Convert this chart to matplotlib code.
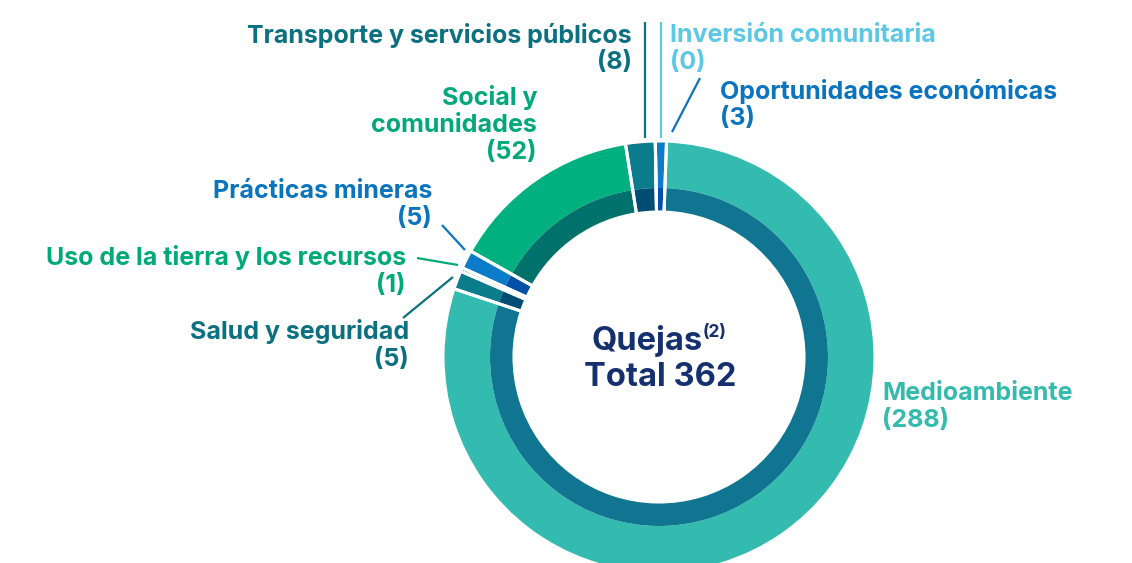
import matplotlib
matplotlib.use("Agg")
import matplotlib.pyplot as plt

# ---- data ----
categories = ["Medioambiente", "Salud y seguridad", "Uso de la tierra y los recursos",
              "Prácticas mineras", "Social y\ncomunidades", "Transporte y servicios públicos",
              "Inversión comunitaria", "Oportunidades económicas"]
values = [288, 5, 1, 5, 52, 8, 0, 3]
total_label = "Total 362"
center_title = "Quejas"
center_note = "(2)"

outer_colors = ["#33BBAF", "#0A7C8C", "#00B07F", "#0A7CC8", "#00B07F", "#0A7C8C", "#5BC8E6", "#0A7CC8"]
inner_colors = ["#0F7590", "#004D73", "#0E8A74", "#0050A8", "#00716B", "#004D73", "#5BC8E6", "#0052A6"]
text_colors = ["#33BBAE", "#0B7080", "#00AA78", "#0A74BF", "#00A87A", "#0B7080", "#5CC8E5", "#0A74BF"]

W, H = 1132, 563
fig = plt.figure(figsize=(W / 100, H / 100), dpi=100)
ax = fig.add_axes([0, 0, 1, 1])

cx, cy = 659, H - 357
R_out, R_mid, R_in = 216, 169, 145
start = 88

ax.pie(values, radius=R_out, center=(cx, cy), startangle=start, counterclock=False,
       colors=outer_colors, wedgeprops=dict(width=R_out - R_mid, linewidth=0))
ax.pie(values, radius=R_mid, center=(cx, cy), startangle=start, counterclock=False,
       colors=inner_colors, wedgeprops=dict(width=R_mid - R_in, linewidth=0))
ax.pie(values, radius=R_out, center=(cx, cy), startangle=start, counterclock=False,
       colors=["none"] * len(values),
       wedgeprops=dict(width=R_out - R_in, linewidth=2.2, edgecolor="white", facecolor="none"))

ax.set_xlim(0, W)
ax.set_ylim(0, H)
ax.set_aspect("equal")
ax.axis("off")

FONT = "Inter"
fs = 18

def py(y):
    return H - y

# label placements: (x, y of first line center in px, ha)
label_pos = {
    0: (882, 393, "left"),
    1: (409, 332, "right"),
    2: (406, 258, "right"),
    3: (432, 191, "right"),
    4: (537, 98, "right"),
    5: (632, 35, "right"),
    6: (670, 35, "left"),
    7: (720, 91, "left"),
}
line_h = 27.5
for i, (x, y0, ha) in label_pos.items():
    lines = categories[i].split("\n") + [f"({values[i]})"]
    for k, ln in enumerate(lines):
        ax.text(x, py(y0 + k * line_h), ln, ha=ha, va="center", fontsize=fs,
                fontweight="bold", family=FONT, color=text_colors[i])

# leader lines (pixel coords)
leaders = [
    (5, (645, 22), (645, 138)),
    (6, (661, 22), (661, 138)),
    (7, (700, 78), (672, 132)),
    (3, (442, 225), (465, 250)),
    (2, (417, 258), (458, 265)),
    (1, (403, 318), (453, 277)),
]
for i, (x0, y0), (x1, y1) in leaders:
    ax.plot([x0, x1], [py(y0), py(y1)], color=text_colors[i], lw=1.6, solid_capstyle="butt")

# center text
t = ax.text(647, py(341), center_title, ha="center", va="center", fontsize=23.5,
            fontweight="bold", family=FONT, color="#14306F")
ax.annotate(center_note, xy=(1.0, 1.0), xycoords=t, xytext=(0, 1), textcoords="offset points",
            ha="left", va="top", fontsize=12.5, fontweight="bold", family=FONT, color="#14306F")
ax.text(660, py(377), total_label, ha="center", va="center", fontsize=23.5,
        fontweight="bold", family=FONT, color="#14306F")

fig.savefig("out.png", dpi=100)
